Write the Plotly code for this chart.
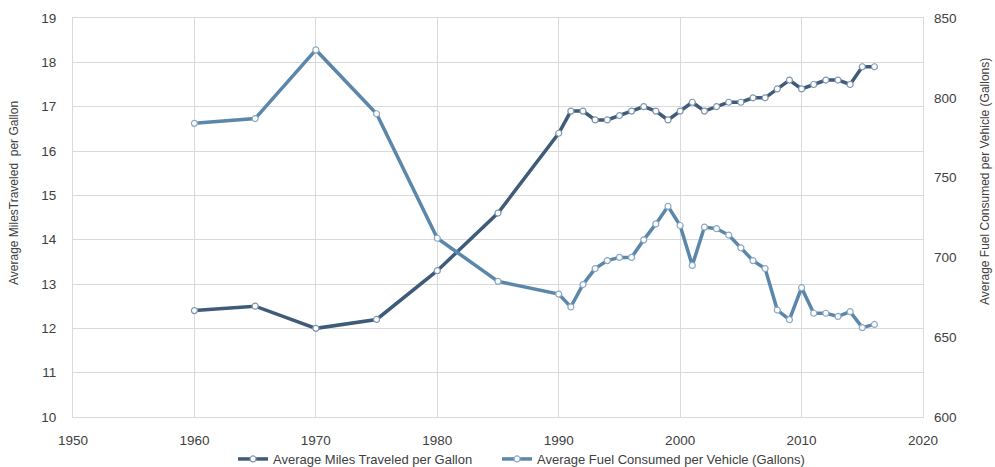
import plotly.graph_objects as go

years = [1960, 1965, 1970, 1975, 1980, 1985, 1990, 1991, 1992, 1993, 1994, 1995,
         1996, 1997, 1998, 1999, 2000, 2001, 2002, 2003, 2004, 2005, 2006, 2007,
         2008, 2009, 2010, 2011, 2012, 2013, 2014, 2015, 2016]
mpg = [12.4, 12.5, 12.0, 12.2, 13.3, 14.6, 16.4, 16.9, 16.9, 16.7, 16.7, 16.8,
       16.9, 17.0, 16.9, 16.7, 16.9, 17.1, 16.9, 17.0, 17.1, 17.1, 17.2, 17.2,
       17.4, 17.6, 17.4, 17.5, 17.6, 17.6, 17.5, 17.9, 17.9]
fuel = [784, 787, 830, 790, 712, 685, 677, 669, 683, 693, 698, 700,
        700, 711, 721, 732, 720, 695, 719, 718, 714, 706, 698, 693,
        667, 661, 681, 665, 665, 663, 666, 656, 658]

left_ticks = list(range(10, 20))
right_ticks = list(range(600, 851, 50))
x_ticks = list(range(1950, 2021, 10))

left_title = "Average MilesTraveled  per Gallon"
right_title = "Average Fuel Consumed per Vehicle (Gallons)"

font_family = "Liberation Sans, Arial, sans-serif"
c_mpg = "#3e5c7a"
c_fuel = "#5b87ab"

W, H = 995, 467
L, R, T, B = 73, 72, 18, 50
pw = W - L - R
ph = H - T - B

fig = go.Figure()
fig.add_trace(go.Scatter(
    x=years, y=mpg, name="Average Miles Traveled per Gallon",
    mode="lines+markers", legend="legend",
    line=dict(color=c_mpg, width=3.5),
    marker=dict(size=6, color="white", line=dict(color="#8096b0", width=1.2)),
))
fig.add_trace(go.Scatter(
    x=years, y=fuel, name="Average Fuel Consumed per Vehicle (Gallons)",
    mode="lines+markers", yaxis="y2", legend="legend2",
    line=dict(color=c_fuel, width=3.5),
    marker=dict(size=6, color="white", line=dict(color="#8aa8c4", width=1.2)),
))

leg_common = dict(orientation="h", xanchor="left",
                  y=-(459 - (T + ph)) / ph, yanchor="middle",
                  font=dict(size=13, color="#404040"), itemwidth=30,
                  bgcolor="rgba(0,0,0,0)")

fig.update_layout(
    width=W, height=H,
    margin=dict(l=L, r=R, t=T, b=B, autoexpand=False),
    paper_bgcolor="white", plot_bgcolor="white",
    font=dict(family=font_family, size=13.5, color="#404040"),
    showlegend=True,
    legend=dict(x=(233 - L) / pw, **leg_common),
    legend2=dict(x=(497 - L) / pw, **leg_common),
    xaxis=dict(range=[1950, 2020], tickvals=x_ticks, showgrid=True,
               gridcolor="#d9d9d9", gridwidth=1, zeroline=False,
               showline=True, linecolor="#d9d9d9", mirror=True, ticks="",
               ticklabelstandoff=11, automargin=False,
               tickfont=dict(size=13.5)),
    yaxis=dict(range=[10, 19], tickvals=left_ticks, showgrid=True,
               gridcolor="#d9d9d9", gridwidth=1, zeroline=False,
               showline=True, linecolor="#d9d9d9", mirror=True, ticks="",
               ticklabelstandoff=13, automargin=False,
               tickfont=dict(size=13.5)),
    yaxis2=dict(range=[600, 850], tickvals=right_ticks, overlaying="y",
                side="right", showgrid=False, zeroline=False, ticks="",
                ticklabelstandoff=10, automargin=False,
                tickfont=dict(size=13.5)),
    annotations=[
        dict(text=left_title, textangle=-90, xref="paper", yref="paper",
             x=(14 - L) / pw, y=1 - (193 - T) / ph,
             xanchor="center", yanchor="middle", showarrow=False,
             font=dict(size=12, color="#404040")),
        dict(text=right_title, textangle=-90, xref="paper", yref="paper",
             x=(985 - L) / pw, y=1 - (182 - T) / ph,
             xanchor="center", yanchor="middle", showarrow=False,
             font=dict(size=12, color="#404040")),
    ],
)

fig.write_html("out.html", config={"displayModeBar": False},
               post_script="document.body.style.margin='0';")
